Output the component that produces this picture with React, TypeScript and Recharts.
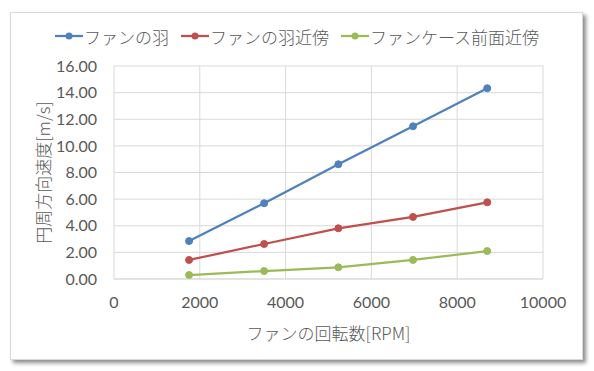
import React from 'react';
import { LineChart, Line, XAxis, YAxis, CartesianGrid, Legend } from 'recharts';

const rpm = [1750, 3500, 5230, 6970, 8700];
const bladeSpeed = [2.85, 5.69, 8.62, 11.47, 14.33];
const nearBladeSpeed = [1.43, 2.63, 3.81, 4.66, 5.76];
const caseFrontSpeed = [0.3, 0.6, 0.88, 1.43, 2.1];
const seriesNames = ['ファンの羽', 'ファンの羽近傍', 'ファンケース前面近傍'];
const seriesColors = ['#4f81bd', '#c0504d', '#9bbb59'];
const xTicks = [0, 2000, 4000, 6000, 8000, 10000];
const yTicks = [0, 2, 4, 6, 8, 10, 12, 14, 16];
const xLabel = 'ファンの回転数[RPM]';
const yLabel = '円周方向速度[m/s]';

const data = rpm.map((r, i) => ({
  rpm: r,
  s0: bladeSpeed[i],
  s1: nearBladeSpeed[i],
  s2: caseFrontSpeed[i],
}));

const JP = '"Noto Sans CJK JP", "Noto Sans", sans-serif';
const NUM = 'Lato, "Noto Sans", sans-serif';
const TEXT = '#595959';

const LegendContent = () => (
  <div style={{ display: 'flex', justifyContent: 'center', alignItems: 'center', height: 24, fontFamily: JP, fontSize: 17, fontWeight: 300, color: TEXT }}>
    {seriesNames.map((n, i) => (
      <div key={n} style={{ display: 'flex', alignItems: 'center', marginRight: i < 2 ? 12 : 0 }}>
        <svg width={28} height={10} style={{ marginRight: 1 }}>
          <line x1={0} y1={5} x2={28} y2={5} stroke={seriesColors[i]} strokeWidth={2.25} />
          <circle cx={14} cy={5} r={3.5} fill={seriesColors[i]} />
        </svg>
        <span>{n}</span>
      </div>
    ))}
  </div>
);

const YLabel = (props: any) => {
  const vb = props.viewBox || {};
  const cx = 42;
  const cy = vb.y + vb.height / 2;
  return (
    <text x={cx} y={cy} transform={`rotate(-90 ${cx} ${cy})`} textAnchor="middle" dominantBaseline="central" fill={TEXT} fontSize={17} fontWeight={300} fontFamily={JP}>
      {yLabel}
    </text>
  );
};

const XLabel = (props: any) => {
  const vb = props.viewBox || {};
  const cx = vb.x + vb.width / 2;
  const cy = 332;
  return (
    <text x={cx} y={cy} textAnchor="middle" dominantBaseline="central" fill={TEXT} fontSize={17} fontWeight={300} fontFamily={JP}>
      {xLabel}
    </text>
  );
};

export default function App() {
  return (
    <div style={{ position: 'absolute', left: 0, top: 0, width: 594, height: 371, background: '#ffffff' }}>
      <div style={{ position: 'absolute', left: 10, top: 12, width: 571, height: 346, border: '1px solid #d9d9d9', background: '#fff', boxShadow: '3px 3px 4px rgba(0,0,0,0.45)' }} />
      <div style={{ position: 'absolute', left: 0, top: 0 }}>
        <LineChart width={594} height={371} data={data} margin={{ top: 42, right: 51, bottom: 52, left: 0 }}>
          <CartesianGrid stroke="#d9d9d9" strokeWidth={1} />
          <XAxis
            type="number"
            dataKey="rpm"
            domain={[0, 10000]}
            ticks={xTicks}
            interval={0}
            height={40}
            stroke="#d9d9d9"
            tickLine={false}
            tickSize={0}
            tickMargin={18}
            tick={{ fill: TEXT, fontSize: 16, fontFamily: NUM }}
            label={<XLabel />}
          />
          <YAxis
            type="number"
            domain={[0, 16]}
            ticks={yTicks}
            interval={0}
            width={114}
            axisLine={false}
            tickLine={false}
            tickSize={0}
            tickMargin={17}
            tickFormatter={(v: number) => v.toFixed(2)}
            tick={{ fill: TEXT, fontSize: 16, fontFamily: NUM }}
            label={<YLabel />}
          />
          <Legend verticalAlign="top" content={<LegendContent />} wrapperStyle={{ top: 24, left: 0, width: 594 }} />
          {['s0', 's1', 's2'].map((k, i) => (
            <Line
              key={k}
              type="linear"
              dataKey={k}
              name={seriesNames[i]}
              stroke={seriesColors[i]}
              strokeWidth={2.25}
              dot={{ r: 3.5, fill: seriesColors[i], stroke: seriesColors[i], strokeWidth: 1 }}
              activeDot={false}
              isAnimationActive={false}
            />
          ))}
        </LineChart>
      </div>
    </div>
  );
}
